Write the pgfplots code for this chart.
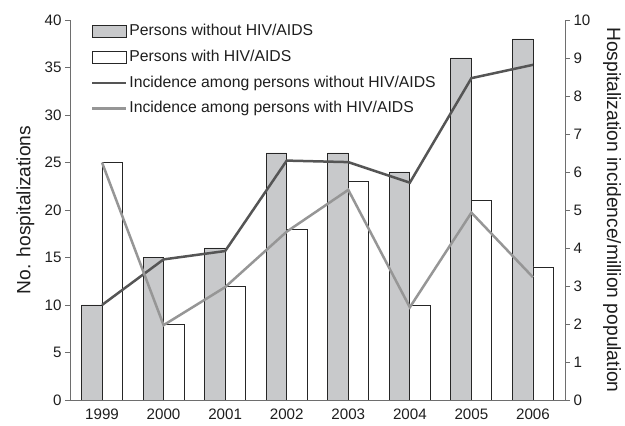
\documentclass[border=0pt]{standalone}
\usepackage{pgfplots}
\pgfplotsset{compat=1.18}
\usepackage{fontspec}
\setmainfont{Liberation Sans}
\definecolor{barGray}{RGB}{200,201,203}
\definecolor{lineDark}{RGB}{85,85,85}
\definecolor{lineLight}{RGB}{150,150,150}
\definecolor{axisGray}{RGB}{110,110,110}
\definecolor{txt}{RGB}{30,30,30}
\newcommand{\cf}{\fontsize{15.2}{18}\selectfont}
\newcommand{\lf}{\fontsize{15.8}{19}\selectfont}
\newcommand{\af}{\fontsize{19.3}{23}\selectfont}
\begin{document}
\begin{tikzpicture}
\useasboundingbox (-70bp,-26bp) rectangle (555bp,400bp);
\pgfplotsset{
 common/.style={
  width=495bp, height=380bp, scale only axis,
  xmin=-0.52, xmax=7.52,
  /pgf/number format/assume math mode=true,
  tick label style={text=txt, font=\cf},
  label style={text=txt, font=\af},
  axis line style={-, axisGray, line width=0.8pt},
  tick style={axisGray, line width=0.8pt},
  major tick length=5bp,
  tick align=outside,
 }
}
\begin{axis}[common,
 axis x line*=bottom, axis y line*=left,
 ymin=0, ymax=40, ytick={0,5,...,40},
 xtick={0,...,7}, xticklabels={1999,2000,2001,2002,2003,2004,2005,2006},
 x tick style={draw=none},
 ylabel={No. hospitalizations},
 ylabel style={at={(axis description cs:-0.09,0.5)}, anchor=center},
]
\addplot[ybar, bar width=20.5bp, bar shift=-10.25bp, fill=barGray, draw=black!85, line width=0.9pt] coordinates {
(0,10) (1,15) (2,16) (3,26) (4,26) (5,24) (6,36) (7,38)};
\addplot[ybar, bar width=20.5bp, bar shift=10.25bp, fill=white, draw=black!85, line width=0.9pt] coordinates {
(0,25) (1,8) (2,12) (3,18) (4,23) (5,10) (6,21) (7,14)};
\end{axis}
\begin{axis}[common,
 axis x line=none, axis y line*=right,
 ymin=0, ymax=10, ytick={0,1,...,10},
 ylabel={Hospitalization incidence/million population},
 ylabel style={at={(axis description cs:1.095,0.5)}, anchor=center, rotate=180},
 legend cell align=left,
 legend style={at={(axis description cs:0.042,0.993)}, anchor=north west, draw=none, fill=none,
   inner sep=0pt, row sep=8.7bp, font=\lf,
   nodes={inner sep=2bp, text height=11bp, text depth=2bp, text=txt}},
 legend image code/.code={\draw[#1] (0bp,0bp) -- (34bp,0bp);},
]
\addlegendimage{legend image code/.code={\draw[fill=barGray, draw=black!85, line width=0.9pt] (0bp,-6bp) rectangle (34bp,6bp);}}
\addlegendentry{Persons without HIV/AIDS}
\addlegendimage{legend image code/.code={\draw[fill=white, draw=black!85, line width=0.9pt] (0bp,-6bp) rectangle (34bp,6bp);}}
\addlegendentry{Persons with HIV/AIDS}
\addplot[lineDark, line width=2.5bp, mark=none] coordinates {
(0,2.5) (1,3.7) (2,3.92) (3,6.3) (4,6.26) (5,5.72) (6,8.47) (7,8.82)};
\addlegendentry{Incidence among persons without HIV/AIDS}
\addplot[lineLight, line width=2.5bp, mark=none] coordinates {
(0,6.25) (1,1.97) (2,2.97) (3,4.43) (4,5.53) (5,2.44) (6,4.93) (7,3.23)};
\addlegendentry{Incidence among persons with HIV/AIDS}
\end{axis}
\end{tikzpicture}
\end{document}
